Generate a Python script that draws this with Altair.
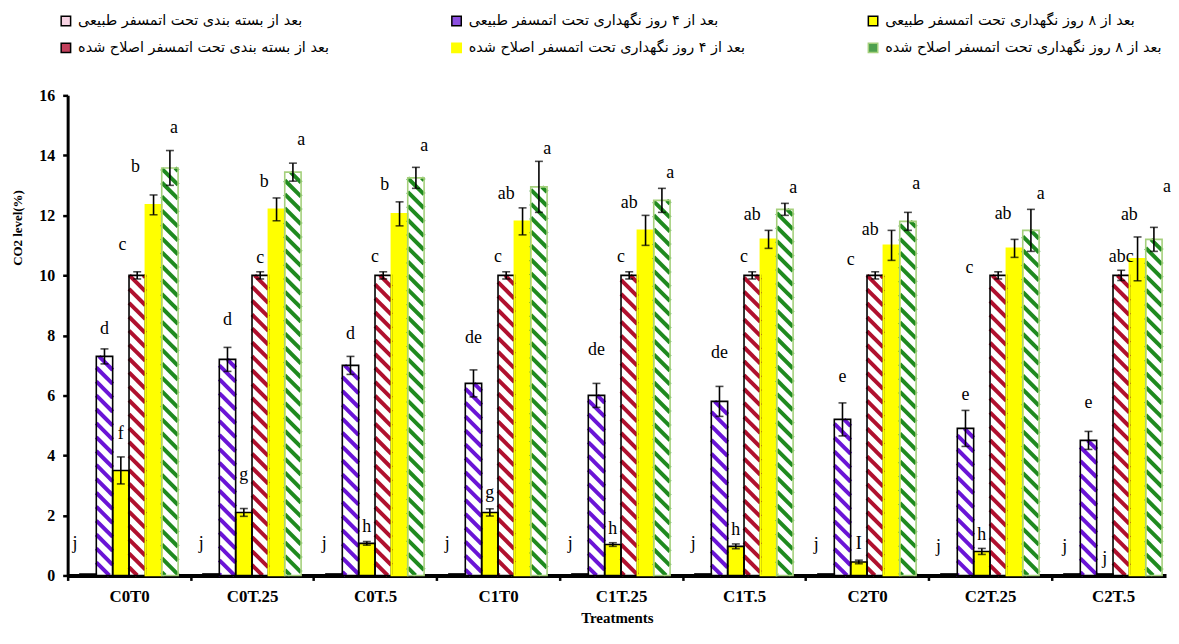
import math
import altair as alt
import pandas as pd

# ---------------- data ----------------
groups = ["C0T0", "C0T.25", "C0T.5", "C1T0", "C1T.25", "C1T.5", "C2T0", "C2T.25", "C2T.5"]
series = [
    "بعد از بسته بندی تحت اتمسفر طبیعی",
    "بعد از ۴ روز نگهداری تحت اتمسفر طبیعی",
    "بعد از ۸ روز نگهداری تحت اتمسفر طبیعی",
    "بعد از بسته بندی تحت اتمسفر اصلاح شده",
    "بعد از ۴ روز نگهداری تحت اتمسفر اصلاح شده",
    "بعد از ۸ روز نگهداری تحت اتمسفر اصلاح شده",
]

pack_natural = [0.05, 0.05, 0.05, 0.05, 0.05, 0.05, 0.05, 0.05, 0.05]
day4_natural = [7.3, 7.2, 7.0, 6.4, 6.0, 5.8, 5.2, 4.9, 4.5]
day8_natural = [3.5, 2.1, 1.07, 2.1, 1.03, 0.97, 0.45, 0.8, 0.05]
pack_modified = [10.0, 10.0, 10.0, 10.0, 10.0, 10.0, 10.0, 10.0, 10.0]
day4_modified = [12.35, 12.2, 12.05, 11.8, 11.5, 11.2, 11.0, 10.9, 10.55]
day8_modified = [13.58, 13.44, 13.25, 12.95, 12.5, 12.2, 11.8, 11.5, 11.2]

err_pack_natural = [0, 0, 0, 0, 0, 0, 0, 0, 0]
err_day4_natural = [0.25, 0.4, 0.3, 0.45, 0.4, 0.5, 0.55, 0.6, 0.3]
err_day8_natural = [0.45, 0.13, 0.06, 0.12, 0.06, 0.08, 0.06, 0.1, 0.0]
err_pack_modified = [0.12, 0.12, 0.12, 0.12, 0.12, 0.12, 0.12, 0.12, 0.17]
err_day4_modified = [0.33, 0.38, 0.4, 0.45, 0.5, 0.3, 0.5, 0.3, 0.73]
err_day8_modified = [0.58, 0.3, 0.35, 0.85, 0.4, 0.2, 0.3, 0.7, 0.4]

letters_pack_natural = ["j", "j", "j", "j", "j", "j", "j", "j", "j"]
letters_day4_natural = ["d", "d", "d", "de", "de", "de", "e", "e", "e"]
letters_day8_natural = ["f", "g", "h", "g", "h", "h", "I", "h", "j"]
letters_pack_modified = ["c", "c", "c", "c", "c", "c", "c", "c", "abc"]
letters_day4_modified = ["b", "b", "b", "ab", "ab", "ab", "ab", "ab", "ab"]
letters_day8_modified = ["a", "a", "a", "a", "a", "a", "a", "a", "a"]

# letter anchor heights (CO2 %)
ly_pack_natural = [1.05, 1.05, 1.05, 1.05, 1.05, 1.05, 1.0, 0.95, 0.95]
ly_day4_natural = [8.2, 8.5, 8.05, 7.9, 7.5, 7.4, 6.6, 6.0, 5.76]
ly_day8_natural = [4.7, 3.35, 1.6, 2.75, 1.55, 1.5, 1.05, 1.36, 0.56]
ly_pack_modified = [11.0, 10.57, 10.6, 10.6, 10.6, 10.6, 10.5, 10.23, 10.6]
ly_day4_modified = [13.6, 13.1, 13.0, 12.7, 12.4, 12.0, 11.5, 12.05, 12.0]
ly_day8_modified = [14.9, 14.5, 14.3, 14.2, 13.4, 12.9, 13.05, 12.7, 12.95]

# letter horizontal shift, in bar widths
ldx_pack_natural = [-0.8, -0.6, -0.6, -0.6, -0.6, -0.6, -0.6, -0.65, -0.45]
ldx_day4_natural = [0, 0, 0, 0, 0, 0, 0, 0, 0]
ldx_day8_natural = [0, 0, 0, 0, 0, 0, 0, 0, 0]
ldx_pack_modified = [-0.9, 0, -0.5, -0.5, -0.5, -0.5, -1.5, -1.75, 0]
ldx_day4_modified = [-1.1, -0.75, -0.9, -1.0, -1.0, -1.0, -1.3, -0.7, -0.5]
ldx_day8_modified = [0.25, 0.5, 0.5, 0.5, 0.5, 0.5, 0.5, 0.6, 0.8]

values = [pack_natural, day4_natural, day8_natural, pack_modified, day4_modified, day8_modified]
errors = [err_pack_natural, err_day4_natural, err_day8_natural,
          err_pack_modified, err_day4_modified, err_day8_modified]
letters = [letters_pack_natural, letters_day4_natural, letters_day8_natural,
           letters_pack_modified, letters_day4_modified, letters_day8_modified]
letter_y = [ly_pack_natural, ly_day4_natural, ly_day8_natural,
            ly_pack_modified, ly_day4_modified, ly_day8_modified]
letter_dx = [ldx_pack_natural, ldx_day4_natural, ldx_day8_natural,
             ldx_pack_modified, ldx_day4_modified, ldx_day8_modified]

# ---------------- styles ----------------
PURPLE = "#6a14d6"
RED = "#b0102e"
GREEN = "#1f8a1f"
YELLOW = "#ffff00"
styles = [
    dict(fill="#f7d3e3", outline="#000000", hatch=None, lfill="#f7d3e3", lstroke="#000000"),
    dict(fill="#ffffff", outline="#000000", hatch=PURPLE, lfill="#8c4fe0", lstroke="#000000"),
    dict(fill=YELLOW, outline="#000000", hatch=None, lfill=YELLOW, lstroke="#000000"),
    dict(fill="#ffffff", outline="#000000", hatch=RED, lfill="#c2405c", lstroke="#000000"),
    dict(fill=YELLOW, outline=YELLOW, hatch=None, lfill=YELLOW, lstroke=YELLOW),
    dict(fill="#ffffff", outline="#a5d07c", hatch=GREEN, lfill="#4ea04e", lstroke="#a5d07c"),
]

W, H = 1105, 483
XMAX = 8.93
YMAX = 16
OFF = 0.10      # left gap inside a group (group units)
BW = 0.133      # bar width (group units)
PXX = W / XMAX
PXY = H / YMAX
STRIPE_STEP = 14.0   # px between stripes (measured along x)
STRIPE_W = 4.0

bar_rows, err_rows, cap_rows, lab_rows, stripe_rows = [], [], [], [], []
for g, gname in enumerate(groups):
    for s, sname in enumerate(series):
        st = styles[s]
        v = values[s][g]
        e = errors[s][g]
        x0 = g + OFF + s * BW
        x1 = x0 + BW
        xc = (x0 + x1) / 2
        bar_rows.append(dict(group=gname, series=sname, x0=x0, x1=x1, xc=xc, value=v,
                             base=0.0, fillc=st["fill"], outc=st["outline"]))
        if e > 0:
            err_rows.append(dict(xc=xc, lo=v - e, hi=v + e))
            cap_rows.append(dict(xc=xc, yv=v - e))
            cap_rows.append(dict(xc=xc, yv=v + e))
        lab_rows.append(dict(lx=xc + letter_dx[s][g] * BW, ly=letter_y[s][g], txt=letters[s][g]))
        if st["hatch"]:
            X0, X1 = x0 * PXX, x1 * PXX
            Y0, Y1 = 0.0, v * PXY
            k0 = math.ceil((X0 + Y0) / STRIPE_STEP)
            k1 = math.floor((X1 + Y1) / STRIPE_STEP)
            for k in range(k0, k1 + 1):
                c = k * STRIPE_STEP
                xa = max(X0, c - Y1)
                xb = min(X1, c - Y0)
                if xb - xa > 0.3:
                    stripe_rows.append(dict(sx=xa / PXX, sy=(c - xa) / PXY,
                                            sx2=xb / PXX, sy2=(c - xb) / PXY,
                                            col=st["hatch"]))

bars = pd.DataFrame(bar_rows)
errs = pd.DataFrame(err_rows)
caps = pd.DataFrame(cap_rows)
labs = pd.DataFrame(lab_rows)
stripes = pd.DataFrame(stripe_rows)

xscale = alt.Scale(domain=[0, XMAX], nice=False, zero=False)
yscale = alt.Scale(domain=[0, YMAX], nice=False)

label_arr = "[" + ",".join("'%s'" % g for g in groups) + "]"
x_axis = alt.Axis(
    values=[i * 0.5 for i in range(18)],
    labelExpr="datum.value % 1 == 0 ? '' : " + label_arr + "[floor(datum.value)]",
    tickOpacity={"condition": {"test": "datum.value % 1 == 0", "value": 1}, "value": 0},
    tickSize=5, tickWidth=2.5, tickColor="black",
    domainWidth=4, domainColor="black",
    labelFont="Liberation Serif", labelFontWeight="bold", labelFontSize=17,
    labelColor="black", labelPadding=8, labelFlush=False, labelOverlap=False,
    grid=False, title="Treatments", titleFont="Liberation Serif",
    titleFontWeight="bold", titleFontSize=15, titleColor="black", titlePadding=6,
)
y_axis = alt.Axis(
    values=list(range(0, 17, 2)), tickSize=5, tickWidth=2.5, tickColor="black",
    domainWidth=3, domainColor="black",
    labelFont="Liberation Serif", labelFontWeight="bold", labelFontSize=16,
    labelColor="black", labelPadding=8, grid=False,
    title="CO2 level(%)", titleFont="Liberation Serif", titleFontWeight="bold",
    titleFontSize=13, titleColor="black", titlePadding=14, titleY=133,
)

base_bars = alt.Chart(bars).mark_rect(strokeWidth=0).encode(
    x=alt.X("x0:Q", scale=xscale, axis=x_axis),
    x2="x1:Q",
    y=alt.Y("value:Q", scale=yscale, axis=y_axis),
    y2="base:Q",
    fill=alt.Fill("fillc:N", scale=None),
)

stripe_layer = alt.Chart(stripes).mark_rule(strokeWidth=STRIPE_W, strokeCap="butt").encode(
    x="sx:Q", y="sy:Q", x2="sx2:Q", y2="sy2:Q",
    stroke=alt.Stroke("col:N", scale=None),
)

outline = alt.Chart(bars).mark_rect(fillOpacity=0, strokeWidth=1.6).encode(
    x="x0:Q", x2="x1:Q", y="value:Q", y2="base:Q",
    stroke=alt.Stroke("outc:N", scale=None),
)

leg = alt.Legend(
    title=None, orient="none", legendX=-9, legendY=-82, columns=3, direction="horizontal",
    gridAlign="each",
    symbolType="square", symbolSize=90, symbolStrokeWidth=1.5, symbolOpacity=1,
    labelFont="DejaVu Sans", labelFontSize=14.5, labelColor="black", labelLimit=600,
    columnPadding=120, rowPadding=11, padding=0, labelOffset=5,
)
legend_layer = alt.Chart(bars).mark_square(opacity=0, size=1).encode(
    x="xc:Q", y="value:Q",
    fill=alt.Fill("series:N", sort=series,
                  scale=alt.Scale(domain=series, range=[s["lfill"] for s in styles]), legend=leg),
    stroke=alt.Stroke("series:N", sort=series,
                      scale=alt.Scale(domain=series, range=[s["lstroke"] for s in styles]), legend=leg),
)

err_rule = alt.Chart(errs).mark_rule(color="black", strokeWidth=1.6).encode(
    x="xc:Q", y="lo:Q", y2="hi:Q")
err_caps = alt.Chart(caps).mark_tick(orient="horizontal", size=8, thickness=1.6, color="black").encode(
    x="xc:Q", y="yv:Q")

text_layer = alt.Chart(labs).mark_text(
    font="Liberation Serif", fontSize=18, color="black", baseline="middle", align="center"
).encode(x="lx:Q", y="ly:Q", text="txt:N")

chart = alt.layer(
    base_bars, stripe_layer, outline, legend_layer, err_rule, err_caps, text_layer
).resolve_scale(fill="independent", stroke="independent").properties(
    width=W, height=H, padding={"left": 4, "top": 4, "right": 0, "bottom": 0}
).configure_view(stroke=None)

chart.save("out.html", embed_options={"renderer": "svg", "actions": False})
